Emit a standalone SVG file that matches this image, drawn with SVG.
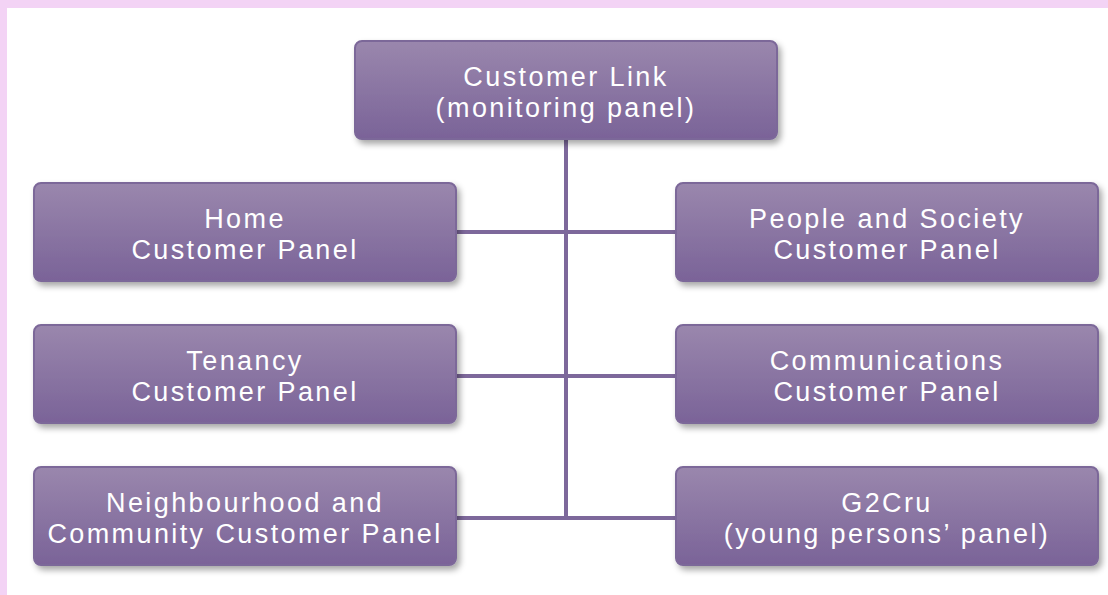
<svg xmlns="http://www.w3.org/2000/svg" width="1108" height="595" viewBox="0 0 1108 595">
<defs>
<linearGradient id="g" x1="0" y1="0" x2="0" y2="1">
<stop offset="0" stop-color="#9a87ad"/>
<stop offset="1" stop-color="#7a6398"/>
</linearGradient>
<filter id="sh" x="-5%" y="-10%" width="115%" height="130%">
<feDropShadow dx="3" dy="4" stdDeviation="3" flood-color="#000" flood-opacity="0.35"/>
</filter>
</defs>
<style>
.box{fill:url(#g);stroke:#7c6799;stroke-width:2;filter:url(#sh)}
.t{font-family:"Liberation Sans",Arial,sans-serif;font-size:27px;fill:#ffffff;text-anchor:middle;letter-spacing:2.4px}
.c{stroke:#7d689b;stroke-width:4;fill:none}
</style>
<rect x="0" y="0" width="1108" height="595" fill="#ffffff"/>
<rect x="0" y="0" width="1108" height="8" fill="#f3d3f5"/>
<rect x="0" y="0" width="7" height="595" fill="#f3d3f5"/>
<g id="connectors">
<line class="c" x1="566" y1="139" x2="566" y2="518"/>
<line class="c" x1="456" y1="232" x2="676" y2="232"/>
<line class="c" x1="456" y1="376" x2="676" y2="376"/>
<line class="c" x1="456" y1="518" x2="676" y2="518"/>
</g>
<g id="customer-link">
<rect class="box" x="355" y="41" width="422" height="98" rx="7"/>
<text class="t" x="566" y="86">Customer Link<tspan x="566" dy="31">(monitoring panel)</tspan></text>
</g>
<g id="home">
<rect class="box" x="34" y="183" width="422" height="98" rx="7"/>
<text class="t" x="245" y="228">Home<tspan x="245" dy="31">Customer Panel</tspan></text>
</g>
<g id="people-society">
<rect class="box" x="676" y="183" width="422" height="98" rx="7"/>
<text class="t" x="887" y="228">People and Society<tspan x="887" dy="31">Customer Panel</tspan></text>
</g>
<g id="tenancy">
<rect class="box" x="34" y="325" width="422" height="98" rx="7"/>
<text class="t" x="245" y="370">Tenancy<tspan x="245" dy="31">Customer Panel</tspan></text>
</g>
<g id="communications">
<rect class="box" x="676" y="325" width="422" height="98" rx="7"/>
<text class="t" x="887" y="370">Communications<tspan x="887" dy="31">Customer Panel</tspan></text>
</g>
<g id="neighbourhood">
<rect class="box" x="34" y="467" width="422" height="98" rx="7"/>
<text class="t" x="245" y="512">Neighbourhood and<tspan x="245" dy="31">Community Customer Panel</tspan></text>
</g>
<g id="g2cru">
<rect class="box" x="676" y="467" width="422" height="98" rx="7"/>
<text class="t" x="887" y="512">G2Cru<tspan x="887" dy="31">(young persons’ panel)</tspan></text>
</g>
</svg>
